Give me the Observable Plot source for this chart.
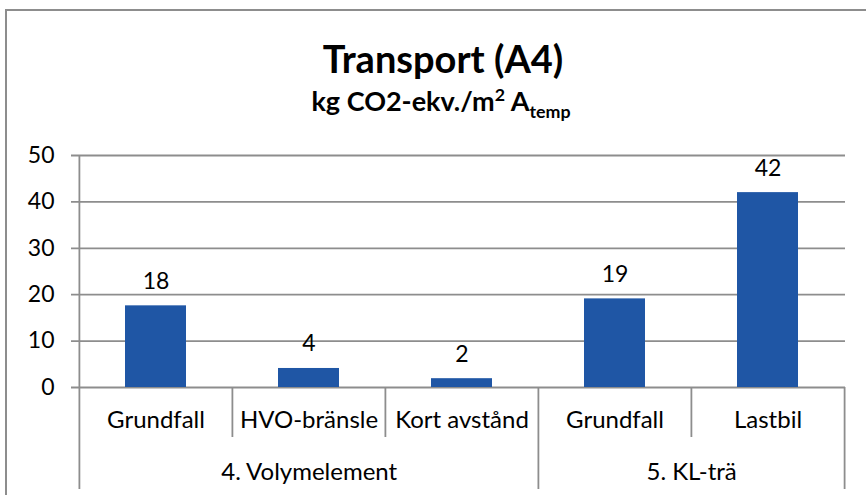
<!DOCTYPE html>
<html>
<head>
<meta charset="utf-8">
<script src="https://cdn.jsdelivr.net/npm/d3@7"></script>
<script src="https://cdn.jsdelivr.net/npm/@observablehq/plot@0.6"></script>
<style>
  html, body { margin: 0; padding: 0; background: #fff; }
  #wrap { position: relative; width: 866px; height: 495px; overflow: hidden; font-family: Lato, sans-serif; }
  #frame { position: absolute; left: 5px; top: 9px; width: 900px; height: 560px; border: 2px solid #8d8d8d; box-sizing: border-box; }
  #title { position: absolute; left: 0; width: 886px; top: 36px; text-align: center; font-weight: bold; font-size: 38px; line-height: 44px; color: #000; }
  #subtitle { position: absolute; left: 0; width: 882px; top: 86px; text-align: center; font-weight: bold; font-size: 27px; line-height: 30px; color: #000; }
  #subtitle sup { font-size: 0.66em; vertical-align: 0.55em; line-height: 0; }
  #subtitle sub { font-size: 0.66em; vertical-align: -0.38em; line-height: 0; }
  #chart { position: absolute; left: 0; top: 140px; }
</style>
</head>
<body>
<div id="wrap">
  <div id="frame"></div>
  <div id="title">Transport (A4)</div>
  <div id="subtitle">kg CO2-ekv./m<sup>2</sup> A<sub>temp</sub></div>
  <div id="chart"></div>
</div>
<script>
// ---- data ----
const groups = ["4. Volymelement", "4. Volymelement", "4. Volymelement", "5. KL-trä", "5. KL-trä"];
const categories = ["Grundfall", "HVO-bränsle", "Kort avstånd", "Grundfall", "Lastbil"];
const values = [17.6, 4.1, 1.9, 19.1, 42.0];
const yTicks = [0, 10, 20, 30, 40, 50];

// ---- layout ----
const W = 866, H = 355, ML = 79, MR = 21, MT = 15, MB = 108;
const N = categories.length;
const step = (W - ML - MR) / N;
const plotH = H - MT - MB;

const keys = categories.map((_, i) => String(i));
const rows = categories.map((c, i) => ({key: keys[i], cat: c, group: groups[i], value: values[i]}));
const fmt = d3.format(".0f");

// category boundaries
const groupStarts = rows.filter((r, i) => i === 0 || groups[i] !== groups[i - 1]);
const innerStarts = rows.filter((r, i) => i > 0 && groups[i] === groups[i - 1]);
const lastRow = [rows[rows.length - 1]];

// group labels
const groupNames = Array.from(new Set(groups));
const groupLabelMarks = groupNames.map(g => {
  const members = rows.filter(r => r.group === g);
  return Plot.text([members[0]], {
    x: "key", y: () => 0, text: () => g,
    dx: (members.length - 1) * step / 2, dy: 85,
    lineAnchor: "middle", fill: "#000", fontSize: 24
  });
});

const lineColor = "#8d8d8d";
const plot = Plot.plot({
  width: W, height: H,
  marginTop: MT, marginBottom: MB, marginLeft: ML, marginRight: MR,
  x: {type: "band", domain: keys, paddingInner: 0.6, paddingOuter: 0.3, axis: null},
  y: {domain: [0, 50], axis: null},
  style: {fontFamily: "Lato, sans-serif", fontSize: "23px", color: "#000", background: "transparent", overflow: "visible"},
  marks: [
    Plot.ruleY(yTicks, {y: d => d, insetLeft: -8, stroke: lineColor, strokeWidth: 1.8}),
    Plot.text(yTicks, {y: d => d, text: d => String(d), frameAnchor: "left", textAnchor: "end", dx: -25, fill: "#000", fontSize: 23}),
    Plot.barY(rows, {x: "key", y: "value", fill: "#1f56a5"}),
    Plot.text(rows, {x: "key", y: "value", text: d => fmt(d.value), lineAnchor: "bottom", dy: -17, fill: "#000", fontSize: 23}),
    Plot.text(rows, {x: "key", y: () => 0, text: "cat", lineAnchor: "middle", dy: 33, fill: "#000", fontSize: 24}),
    ...groupLabelMarks,
    // axis line (left) and group boundaries
    Plot.ruleX([rows[0]], {x: "key", dx: -step / 2, insetBottom: -102, stroke: lineColor, strokeWidth: 1.8}),
    Plot.ruleX(groupStarts.slice(1), {x: "key", dx: -step / 2, insetTop: plotH, insetBottom: -102, stroke: lineColor, strokeWidth: 1.8}),
    Plot.ruleX(lastRow, {x: "key", dx: step / 2, insetTop: plotH, insetBottom: -102, stroke: lineColor, strokeWidth: 1.8}),
    Plot.ruleX(innerStarts, {x: "key", dx: -step / 2, insetTop: plotH, insetBottom: -50, stroke: lineColor, strokeWidth: 1.8})
  ]
});
document.getElementById("chart").appendChild(plot);
</script>
</body>
</html>
